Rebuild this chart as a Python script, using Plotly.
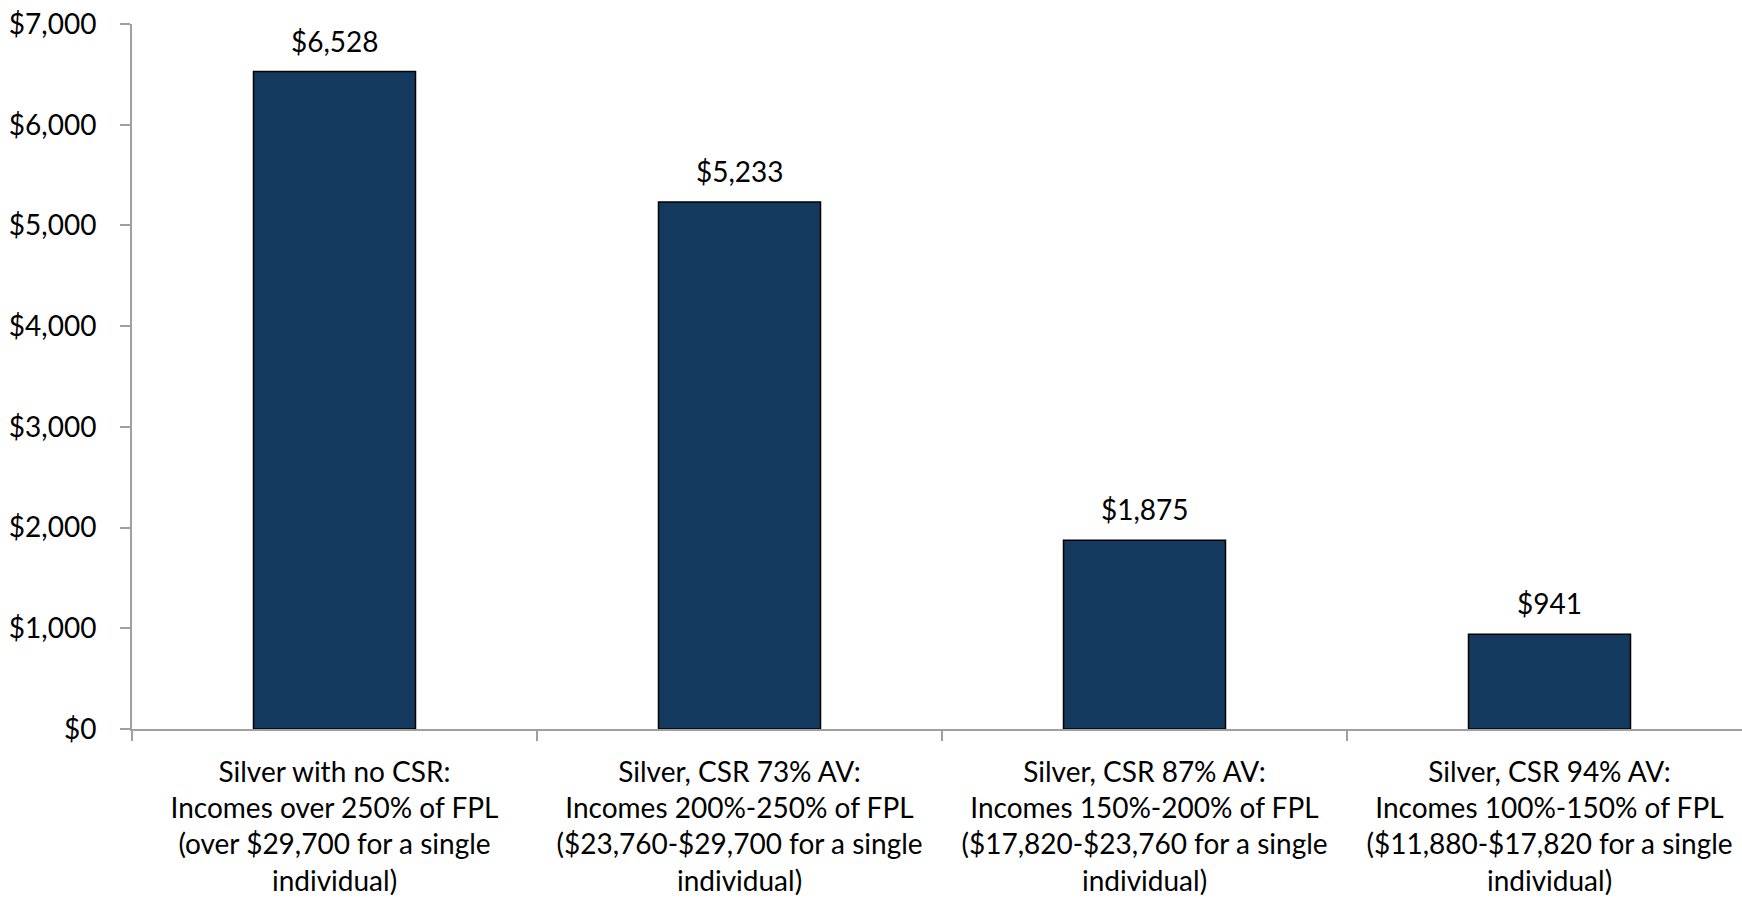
import plotly.graph_objects as go

categories = [
    "Silver with no CSR:<br>Incomes over 250% of FPL<br>(over $29,700 for a single<br>individual)",
    "Silver, CSR 73% AV:<br>Incomes 200%-250% of FPL<br>($23,760-$29,700 for a single<br>individual)",
    "Silver, CSR 87% AV:<br>Incomes 150%-200% of FPL<br>($17,820-$23,760 for a single<br>individual)",
    "Silver, CSR 94% AV:<br>Incomes 100%-150% of FPL<br>($11,880-$17,820 for a single<br>individual)",
]
values = [6528, 5233, 1875, 941]
value_labels = ["$6,528", "$5,233", "$1,875", "$941"]
y_ticks = [0, 1000, 2000, 3000, 4000, 5000, 6000, 7000]
y_tick_labels = ["$0", "$1,000", "$2,000", "$3,000", "$4,000", "$5,000", "$6,000", "$7,000"]

FONT = "Lato"
FS = 28
AXIS_COLOR = "#A0A0A0"

fig = go.Figure()
fig.add_trace(go.Bar(
    x=categories,
    y=values,
    marker=dict(color="#133A5E", line=dict(color="#000000", width=1.5)),
    hoverinfo="skip",
))

for c, v, t in zip(categories, values, value_labels):
    fig.add_annotation(x=c, y=v, text=t, showarrow=False, yanchor="bottom",
                       yshift=12, font=dict(family=FONT, size=FS, color="#000000"))

fig.update_layout(
    width=1752, height=903,
    margin=dict(l=132, r=0, t=24, b=174, autoexpand=False),
    paper_bgcolor="white", plot_bgcolor="white",
    bargap=0.6,
    showlegend=False,
    font=dict(family=FONT, size=FS, color="#000000"),
)
fig.update_xaxes(
    automargin=False,
    showline=True, linecolor=AXIS_COLOR, linewidth=2,
    ticks="outside", ticklen=10, tickwidth=2, tickcolor=AXIS_COLOR,
    tickson="boundaries", showgrid=False,
    tickfont=dict(family=FONT, size=FS, color="#000000"),
    ticklabelstandoff=17,
)
fig.update_yaxes(
    automargin=False,
    range=[0, 7000], tickvals=y_ticks, ticktext=y_tick_labels,
    showline=True, linecolor=AXIS_COLOR, linewidth=2,
    ticks="outside", ticklen=10, tickwidth=2, tickcolor=AXIS_COLOR,
    showgrid=False, zeroline=False,
    tickfont=dict(family=FONT, size=FS, color="#000000"),
    ticklabelstandoff=18, ticklabeloverflow="allow",
)

fig.write_html(
    "out.html",
    config={"displayModeBar": False},
    post_script="document.body.style.margin='0';document.body.style.overflow='hidden';",
)
